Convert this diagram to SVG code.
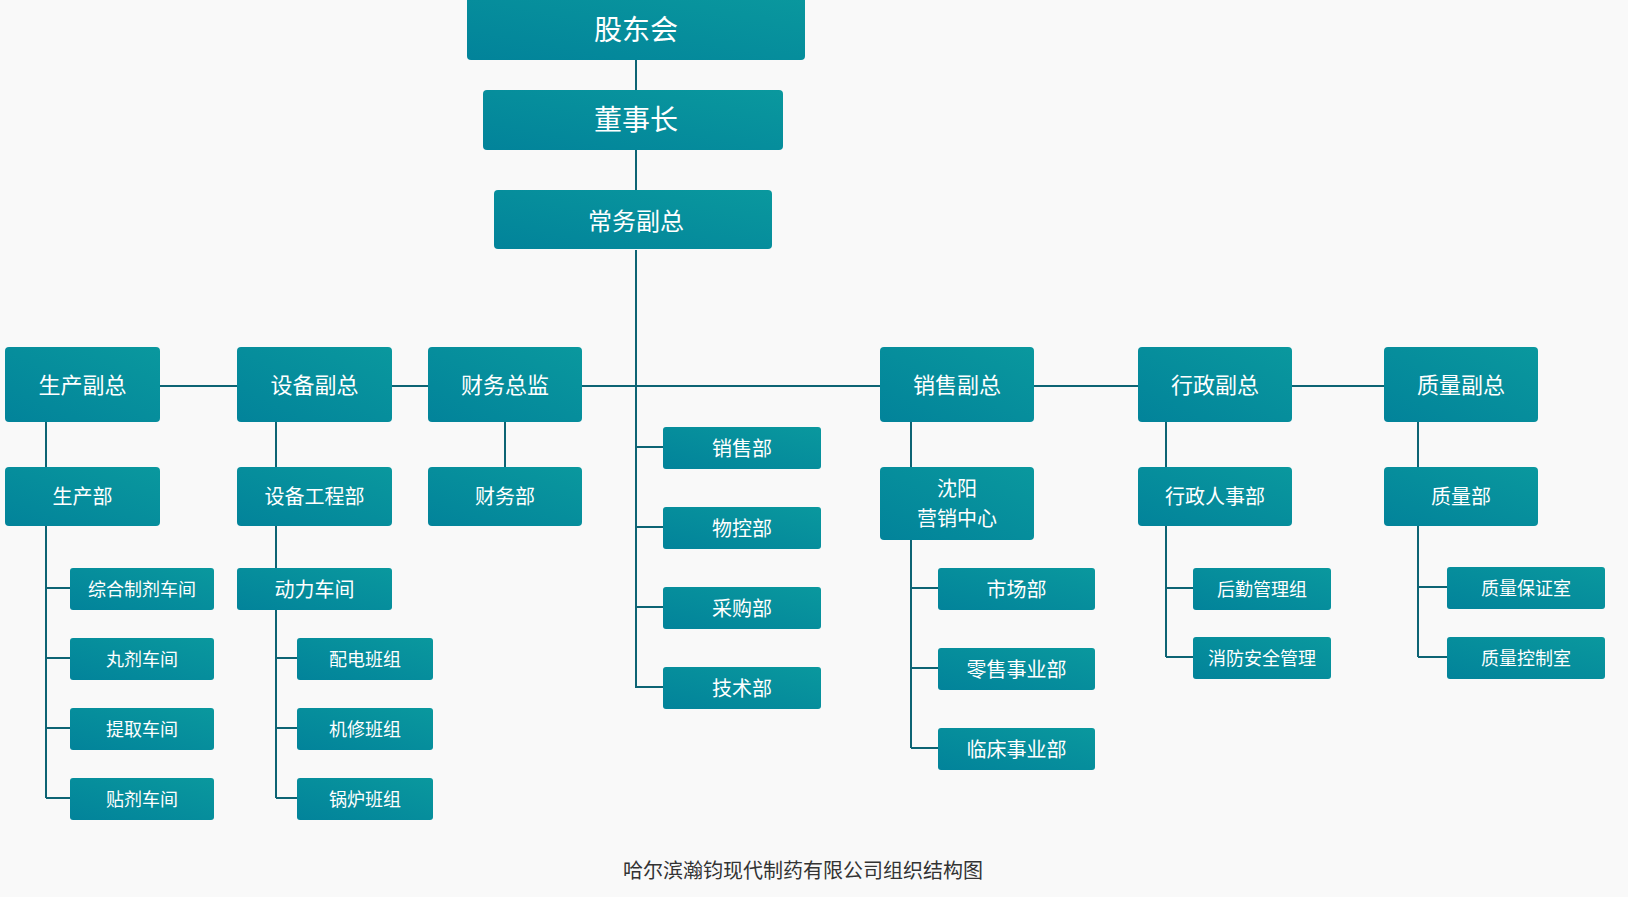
<svg xmlns="http://www.w3.org/2000/svg" width="1628" height="897" viewBox="0 0 1628 897">
<defs>
<linearGradient id="g" x1="0" y1="1" x2="1" y2="0">
<stop offset="0" stop-color="#02839a"/>
<stop offset="1" stop-color="#0a989e"/>
</linearGradient>
<style>
.b{fill:url(#g);}
.t{fill:#ffffff;font-family:"Noto Sans CJK SC","Noto Sans",sans-serif;text-anchor:middle;dominant-baseline:central;}
.f28{font-size:28px;}
.f24{font-size:24px;}
.f22{font-size:22px;}
.f20{font-size:20px;}
.f18{font-size:18px;}
.c{stroke:#0d6474;stroke-width:2;fill:none;}
</style>
</defs>
<rect x="0" y="0" width="1628" height="897" fill="#f9f9f9"/>
<g id="connectors">
<path class="c" d="M636 60V90M636 150V190M636 250V688"/>
<path class="c" d="M160 386H1384"/>
<path class="c" d="M636 447H663M636 527H663M636 607H663M636 687H663"/>
<path class="c" d="M46 422V467M46 526V798M46 588H70M46 658H70M46 728H70M46 798H70"/>
<path class="c" d="M276 422V467M276 526V568M276 610V798M276 658H297M276 728H297M276 798H297"/>
<path class="c" d="M505 422V467"/>
<path class="c" d="M911 422V467M911 540V748M911 588H938M911 668H938M911 748H938"/>
<path class="c" d="M1166 422V467M1166 526V657M1166 588H1193M1166 657H1193"/>
<path class="c" d="M1418 422V467M1418 526V657M1418 587H1447M1418 657H1447"/>
</g>
<g id="n-gudonghui"><rect class="b" x="467" y="-5" width="338" height="65" rx="4"/><text class="t f28" x="636" y="28">股东会</text></g>
<g id="n-dongshizhang"><rect class="b" x="483" y="90" width="300" height="60" rx="4"/><text class="t f28" x="636" y="118">董事长</text></g>
<g id="n-changwu"><rect class="b" x="494" y="190" width="278" height="59" rx="4"/><text class="t f24" x="636" y="219">常务副总</text></g>

<g id="n-shengchanfuzong"><rect class="b" x="5" y="347" width="155" height="75" rx="4"/><text class="t f22" x="82.5" y="383">生产副总</text></g>
<g id="n-shebeifuzong"><rect class="b" x="237" y="347" width="155" height="75" rx="4"/><text class="t f22" x="314.5" y="383">设备副总</text></g>
<g id="n-caiwuzongjian"><rect class="b" x="428" y="347" width="154" height="75" rx="4"/><text class="t f22" x="505" y="383">财务总监</text></g>
<g id="n-xiaoshoufuzong"><rect class="b" x="880" y="347" width="154" height="75" rx="4"/><text class="t f22" x="957" y="383">销售副总</text></g>
<g id="n-xingzhengfuzong"><rect class="b" x="1138" y="347" width="154" height="75" rx="4"/><text class="t f22" x="1215" y="383">行政副总</text></g>
<g id="n-zhiliangfuzong"><rect class="b" x="1384" y="347" width="154" height="75" rx="4"/><text class="t f22" x="1461" y="383">质量副总</text></g>

<g id="n-shengchanbu"><rect class="b" x="5" y="467" width="155" height="59" rx="4"/><text class="t f20" x="82.5" y="495">生产部</text></g>
<g id="n-shebeigongchengbu"><rect class="b" x="237" y="467" width="155" height="59" rx="4"/><text class="t f20" x="314.5" y="495">设备工程部</text></g>
<g id="n-caiwubu"><rect class="b" x="428" y="467" width="154" height="59" rx="4"/><text class="t f20" x="505" y="495">财务部</text></g>
<g id="n-shenyang"><rect class="b" x="880" y="467" width="154" height="73" rx="4"/><text class="t f20" x="957" y="487">沈阳</text><text class="t f20" x="957" y="517">营销中心</text></g>
<g id="n-xingzhengrenshibu"><rect class="b" x="1138" y="467" width="154" height="59" rx="4"/><text class="t f20" x="1215" y="495">行政人事部</text></g>
<g id="n-zhiliangbu"><rect class="b" x="1384" y="467" width="154" height="59" rx="4"/><text class="t f20" x="1461" y="495">质量部</text></g>

<g id="n-zonghe"><rect class="b" x="70" y="568" width="144" height="42" rx="3"/><text class="t f18" x="142" y="588">综合制剂车间</text></g>
<g id="n-wanji"><rect class="b" x="70" y="638" width="144" height="42" rx="3"/><text class="t f18" x="142" y="658">丸剂车间</text></g>
<g id="n-tiqu"><rect class="b" x="70" y="708" width="144" height="42" rx="3"/><text class="t f18" x="142" y="728">提取车间</text></g>
<g id="n-tieji"><rect class="b" x="70" y="778" width="144" height="42" rx="3"/><text class="t f18" x="142" y="798">贴剂车间</text></g>

<g id="n-dongli"><rect class="b" x="237" y="568" width="155" height="42" rx="3"/><text class="t f20" x="314.5" y="588">动力车间</text></g>
<g id="n-peidian"><rect class="b" x="297" y="638" width="136" height="42" rx="3"/><text class="t f18" x="365" y="658">配电班组</text></g>
<g id="n-jixiu"><rect class="b" x="297" y="708" width="136" height="42" rx="3"/><text class="t f18" x="365" y="728">机修班组</text></g>
<g id="n-guolu"><rect class="b" x="297" y="778" width="136" height="42" rx="3"/><text class="t f18" x="365" y="798">锅炉班组</text></g>

<g id="n-xiaoshoubu"><rect class="b" x="663" y="427" width="158" height="42" rx="3"/><text class="t f20" x="742" y="447">销售部</text></g>
<g id="n-wukongbu"><rect class="b" x="663" y="507" width="158" height="42" rx="3"/><text class="t f20" x="742" y="527">物控部</text></g>
<g id="n-caigoubu"><rect class="b" x="663" y="587" width="158" height="42" rx="3"/><text class="t f20" x="742" y="607">采购部</text></g>
<g id="n-jishubu"><rect class="b" x="663" y="667" width="158" height="42" rx="3"/><text class="t f20" x="742" y="687">技术部</text></g>

<g id="n-shichangbu"><rect class="b" x="938" y="568" width="157" height="42" rx="3"/><text class="t f20" x="1016.5" y="588">市场部</text></g>
<g id="n-lingshou"><rect class="b" x="938" y="648" width="157" height="42" rx="3"/><text class="t f20" x="1016.5" y="668">零售事业部</text></g>
<g id="n-linchuang"><rect class="b" x="938" y="728" width="157" height="42" rx="3"/><text class="t f20" x="1016.5" y="748">临床事业部</text></g>

<g id="n-houqin"><rect class="b" x="1193" y="568" width="138" height="42" rx="3"/><text class="t f18" x="1262" y="588">后勤管理组</text></g>
<g id="n-xiaofang"><rect class="b" x="1193" y="637" width="138" height="42" rx="3"/><text class="t f18" x="1262" y="657">消防安全管理</text></g>

<g id="n-baozheng"><rect class="b" x="1447" y="567" width="158" height="42" rx="3"/><text class="t f18" x="1526" y="587">质量保证室</text></g>
<g id="n-kongzhi"><rect class="b" x="1447" y="637" width="158" height="42" rx="3"/><text class="t f18" x="1526" y="657">质量控制室</text></g>

<text x="803" y="869" font-family="Noto Sans CJK SC, Noto Sans, sans-serif" font-size="20" fill="#333333" text-anchor="middle" dominant-baseline="central">哈尔滨瀚钧现代制药有限公司组织结构图</text>
</svg>
